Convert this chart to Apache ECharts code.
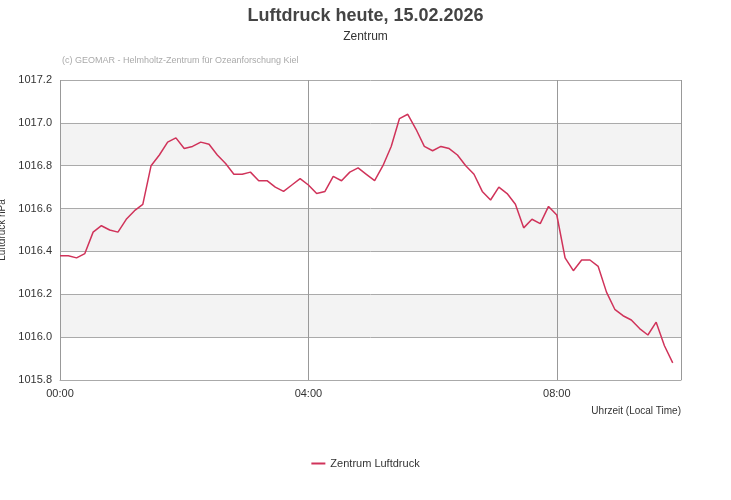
<!DOCTYPE html>
<html><head><meta charset="utf-8">
<script src="https://cdn.jsdelivr.net/npm/echarts@6/dist/echarts.min.js"></script>
<style>html,body{margin:0;padding:0;background:#fff}#c{width:731px;height:500px}</style>
</head><body><div id="c"></div>
<script>
const stepMinutes = 8;
const values = [1016.38,1016.38,1016.37,1016.39,1016.49,1016.52,1016.50,1016.49,1016.55,1016.59,1016.62,1016.80,1016.85,1016.91,1016.93,1016.88,1016.89,1016.91,1016.90,1016.85,1016.81,1016.76,1016.76,1016.77,1016.73,1016.73,1016.70,1016.68,1016.71,1016.74,
1016.71,1016.67,1016.68,1016.75,1016.73,1016.77,1016.79,1016.76,1016.73,1016.80,1016.89,1017.02,1017.04,1016.97,1016.89,1016.87,1016.89,1016.88,1016.85,1016.80,1016.76,1016.68,1016.64,1016.70,1016.67,1016.62,1016.51,1016.55,1016.53,1016.61,1016.57,1016.37,1016.31,1016.36,1016.36,1016.33,1016.21,1016.13,1016.10,1016.08,1016.04,1016.01,1016.07,1015.96,1015.88];
const minutes = values.map((v,i)=>i*stepMinutes);
const seriesName = 'Zentrum Luftdruck';
const data = minutes.map((m,i)=>[m, values[i]]);
const pad = n => String(n).padStart(2,'0');
const chart = echarts.init(document.getElementById('c'));
chart.setOption({
  animation:false,
  title:{text:'Luftdruck heute, 15.02.2026', subtext:'Zentrum', left:'center', top:2,
    textStyle:{fontFamily:'Liberation Sans',fontSize:18,fontWeight:'bold',color:'#444'},
    subtextStyle:{fontFamily:'Liberation Sans',fontSize:12,color:'#333'}, itemGap:6},
  graphic:[{type:'text',left:62,top:56,style:{text:'(c) GEOMAR - Helmholtz-Zentrum für Ozeanforschung Kiel',fontSize:9,fill:'#aaa',fontFamily:'Liberation Sans'}}],
  grid:{left:60,right:50,top:80,bottom:120,containLabel:false,outerBoundsMode:'none'},
  legend:{bottom:26,left:'center',itemWidth:14,itemHeight:2,icon:'rect',textStyle:{fontFamily:'Liberation Sans',fontSize:11,color:'#333'},data:[seriesName]},
  xAxis:{type:'value',min:0,max:600,interval:240,
    name:'Uhrzeit (Local Time)',nameLocation:'end',nameGap:0,
    nameTextStyle:{fontSize:10,color:'#333',fontFamily:'Liberation Sans',align:'right',verticalAlign:'top',padding:[26,0,0,0]},
    axisLine:{show:true,lineStyle:{color:'#aaa'}},axisTick:{show:false},
    axisLabel:{fontSize:11,color:'#333',fontFamily:'Liberation Sans',showMaxLabel:false,formatter:v=>pad(Math.floor(v/60))+':'+pad(v%60)},
    splitLine:{show:true,lineStyle:{color:'#999'}}},
  yAxis:{type:'value',min:1015.8,max:1017.2,interval:0.2,
    name:'Luftdruck hPa',nameLocation:'middle',nameGap:48,nameRotate:90,
    nameTextStyle:{fontSize:10,color:'#333',fontFamily:'Liberation Sans'},
    axisLine:{show:false},axisTick:{show:false},
    axisLabel:{fontSize:11,color:'#333',fontFamily:'Liberation Sans',formatter:v=>v.toFixed(1)},
    splitLine:{lineStyle:{color:'#aaa'}},
    splitArea:{show:true,areaStyle:{color:['#ffffff','#f3f3f3']}}},
  series:[{name:seriesName,type:'line',data:data,showSymbol:false,
    lineStyle:{color:'#d0335a',width:1.5},itemStyle:{color:'#d0335a'}}]
});
</script></body></html>
